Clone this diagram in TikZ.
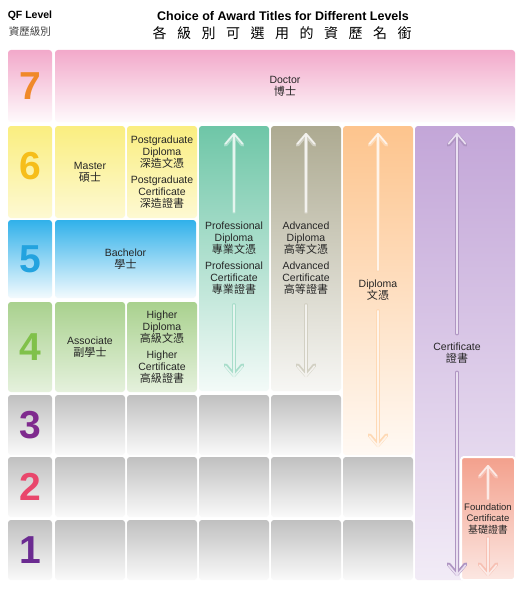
\documentclass[tikz,border=0pt]{standalone}
\usepackage{fontspec}
\setmainfont{Liberation Sans}
\newfontfamily\cjk{Noto Sans CJK TC}[Scale=1.05]
\newfontfamily\cjktitulo{Noto Sans CJK TC}[LetterSpace=75]
\usetikzlibrary{arrows.meta,positioning}

% Colores de las filas y columnas
\definecolor{rosa}{HTML}{F2A9CA}
\definecolor{amarillo}{HTML}{FAEE80}
\definecolor{azul}{HTML}{31B1EA}
\definecolor{verde}{HTML}{A9D18E}
\definecolor{gris}{HTML}{C0C0C0}
\definecolor{turquesa}{HTML}{6EC6A7}
\definecolor{oliva}{HTML}{ADAA91}
\definecolor{naranja}{HTML}{FDC48D}
\definecolor{lila}{HTML}{C3A6D8}
\definecolor{salmon}{HTML}{F3A08C}
% Colores de los numeros
\definecolor{num7}{HTML}{F0892A}
\definecolor{num6}{HTML}{F6BE1A}
\definecolor{num5}{HTML}{23A3DF}
\definecolor{num4}{HTML}{80C14A}
\definecolor{num3}{HTML}{7F2A8E}
\definecolor{num2}{HTML}{E9476C}
\definecolor{num1}{HTML}{6B2B91}

\tikzset{
  celda/.style 2 args={rectangle, rounded corners=3pt, anchor=north west,
    inner sep=0pt, outer sep=0pt, minimum width=#1pt, minimum height=#2pt},
  degradado/.style 2 args={top color=#1, bottom color=#1!#2},
  etiqueta/.style={align=center, text=black!85, inner sep=1pt,
    font=\fontsize{10.5}{12}\selectfont},
  numero/.style={text=#1, inner sep=0pt,
    font=\bfseries\fontsize{39}{40}\selectfont},
  flecha/.style 2 args={draw=#2, line width=1.6pt, line cap=round,
    -{Straight Barb[length=10pt,width=17pt,round]},
    preaction={draw=#1, line width=3.8pt, line cap=round,
      -{Straight Barb[length=10pt,width=17pt,round]}}}
}

\begin{document}
\begin{tikzpicture}[x=1pt,y=-1pt]
  % Marco de la figura
  \useasboundingbox[fill=white] (0,0) rectangle (520,599);

  % Titulos
  \node[font=\bfseries\fontsize{12.5}{13}\selectfont] (titulo) at (283,16)
    {Choice of Award Titles for Different Levels};
  \node[font=\cjktitulo\fontsize{14}{15}\selectfont] (tituloCJK) at (282,33)
    {各級別可選用的資歷名銜};
  \node[font=\bfseries\fontsize{10.5}{11}\selectfont] (qf) at (30,16) {QF Level};
  \node[font=\cjk\fontsize{10}{11}\selectfont, text=black!75] (qfCJK) at (30,32) {資歷級別};

  % Nivel 7
  \node[celda={44}{72}, degradado={rosa}{6}] (N7) at (8,50) {};
  \node[celda={460}{72}, degradado={rosa}{6}] (F7) at (55,50) {};

  % Nivel 6
  \node[celda={44}{92}, degradado={amarillo}{35}] (N6) at (8,126) {};
  \node[celda={70}{92}, degradado={amarillo}{35}] (M) at (55,126) {};
  \node[celda={70}{92}, degradado={amarillo}{35}] (PG) at (127,126) {};

  % Nivel 5
  \node[celda={44}{78}, degradado={azul}{6}] (N5) at (8,220) {};
  \node[celda={141}{78}, degradado={azul}{6}] (B) at (55,220) {};

  % Nivel 4
  \node[celda={44}{90}, degradado={verde}{30}] (N4) at (8,302) {};
  \node[celda={70}{90}, degradado={verde}{30}] (A) at (55,302) {};
  \node[celda={70}{90}, degradado={verde}{30}] (H) at (127,302) {};

  % Niveles 3, 2 y 1 (celdas grises)
  \node[celda={44}{60}, degradado={gris}{8}] (N3) at (8,395) {};
  \node[celda={70}{60}, degradado={gris}{8}] (G31) at (55,395) {};
  \node[celda={70}{60}, degradado={gris}{8}] (G32) at (127,395) {};
  \node[celda={70}{60}, degradado={gris}{8}] (G33) at (199,395) {};
  \node[celda={70}{60}, degradado={gris}{8}] (G34) at (271,395) {};
  \node[celda={44}{60}, degradado={gris}{8}] (N2) at (8,457) {};
  \node[celda={70}{60}, degradado={gris}{8}] (G21) at (55,457) {};
  \node[celda={70}{60}, degradado={gris}{8}] (G22) at (127,457) {};
  \node[celda={70}{60}, degradado={gris}{8}] (G23) at (199,457) {};
  \node[celda={70}{60}, degradado={gris}{8}] (G24) at (271,457) {};
  \node[celda={70}{60}, degradado={gris}{8}] (G25) at (343,457) {};
  \node[celda={44}{60}, degradado={gris}{8}] (N1) at (8,520) {};
  \node[celda={70}{60}, degradado={gris}{8}] (G11) at (55,520) {};
  \node[celda={70}{60}, degradado={gris}{8}] (G12) at (127,520) {};
  \node[celda={70}{60}, degradado={gris}{8}] (G13) at (199,520) {};
  \node[celda={70}{60}, degradado={gris}{8}] (G14) at (271,520) {};
  \node[celda={70}{60}, degradado={gris}{8}] (G15) at (343,520) {};

  % Columnas que abarcan varios niveles
  \node[celda={70}{265}, degradado={turquesa}{8}] (P) at (199,126) {};
  \node[celda={70}{265}, degradado={oliva}{10}] (Av) at (271,126) {};
  \node[celda={70}{329}, degradado={naranja}{10}] (D) at (343,126) {};
  \node[celda={100}{454}, degradado={lila}{22}] (C) at (415,126) {};
  \node[celda={54}{123}, degradado={salmon}{25},
    draw=white, line width=2pt] (Fd) at (461,457) {};

  % Numeros de nivel
  \node[numero=num7] (d7) at (N7.center) {7};
  \node[numero=num6] (d6) at ([yshift=6pt]N6.center) {6};
  \node[numero=num5] (d5) at (N5.center) {5};
  \node[numero=num4] (d4) at (N4.center) {4};
  \node[numero=num3] (d3) at (N3.center) {3};
  \node[numero=num2] (d2) at (N2.center) {2};
  \node[numero=num1] (d1) at (N1.center) {1};

  % Titulos de cada celda
  \node[etiqueta] (tDoc) at (F7.center) {Doctor\\{\cjk 博士}};
  \node[etiqueta] (tM) at (M.center) {Master\\{\cjk 碩士}};
  \node[etiqueta] (tPG) at (PG.center)
    {Postgraduate\\Diploma\\{\cjk 深造文憑}\\[4pt]Postgraduate\\Certificate\\{\cjk 深造證書}};
  \node[etiqueta] (tB) at (B.center) {Bachelor\\{\cjk 學士}};
  \node[etiqueta] (tA) at (A.center) {Associate\\{\cjk 副學士}};
  \node[etiqueta] (tH) at (H.center)
    {Higher\\Diploma\\{\cjk 高級文憑}\\[4pt]Higher\\Certificate\\{\cjk 高級證書}};
  \node[etiqueta, inner ysep=10pt] (tP) at (P.center)
    {Professional\\Diploma\\{\cjk 專業文憑}\\[4pt]Professional\\Certificate\\{\cjk 專業證書}};
  \node[etiqueta, inner ysep=10pt] (tAv) at (Av.center)
    {Advanced\\Diploma\\{\cjk 高等文憑}\\[4pt]Advanced\\Certificate\\{\cjk 高等證書}};
  \node[etiqueta, inner ysep=10pt] (tD) at (D.center) {Diploma\\{\cjk 文憑}};
  \node[etiqueta, inner ysep=9pt] (tC) at (457,353) {Certificate\\{\cjk 證書}};
  \node[etiqueta, inner ysep=4pt, font=\fontsize{9.5}{11.5}\selectfont] (tFd) at (Fd.center)
    {Foundation\\Certificate\\{\cjk 基礎證書}};

  % Puntas de las flechas
  \coordinate (P1) at (234,133);
  \coordinate (P2) at (234,377);
  \coordinate (Av1) at (306,133);
  \coordinate (Av2) at (306,377);
  \coordinate (D1) at (378,133);
  \coordinate (D2) at (378,447);
  \coordinate (C1) at (457,133);
  \coordinate (C2) at (457,576);
  \coordinate (Fd1) at (488,465);
  \coordinate (Fd2) at (488,576);

  % Dibuja las flechas
  \draw[flecha={turquesa!60!white}{turquesa!18!white}] (tP.north) -- (P1);
  \draw[flecha={turquesa!60!white}{turquesa!18!white}] (tP.south) -- (P2);
  \draw[flecha={oliva!55!white}{oliva!15!white}] (tAv.north) -- (Av1);
  \draw[flecha={oliva!55!white}{oliva!15!white}] (tAv.south) -- (Av2);
  \draw[flecha={naranja!65!white}{naranja!18!white}] (tD.north) -- (D1);
  \draw[flecha={naranja!65!white}{naranja!18!white}] (tD.south) -- (D2);
  \draw[flecha={lila!90!black}{lila!35!white}] (tC.north) -- (C1);
  \draw[flecha={lila!90!black}{lila!35!white}] (tC.south) -- (C2);
  \draw[flecha={salmon!65!white}{salmon!22!white}] (tFd.north) -- (Fd1);
  \draw[flecha={salmon!65!white}{salmon!22!white}] (tFd.south) -- (Fd2);
\end{tikzpicture}
\end{document}
